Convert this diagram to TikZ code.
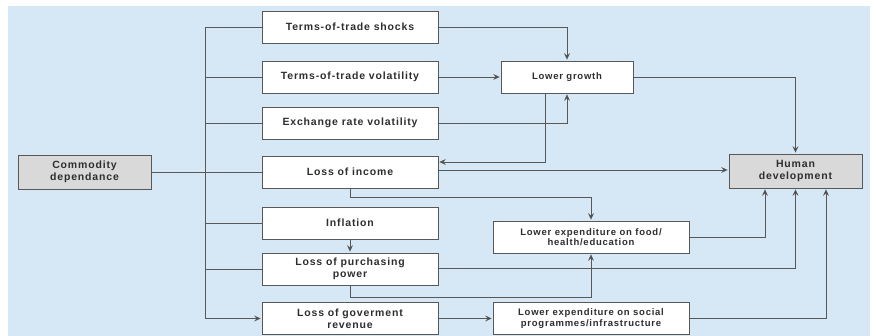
\documentclass[tikz,border=0pt]{standalone}
\usepackage{fontspec}
\usepackage{xcolor}
\usetikzlibrary{arrows.meta}
\newfontfamily\labelfont{Liberation Sans}[LetterSpace=8]
\definecolor{panelblue}{HTML}{D6E7F6}
\definecolor{boxgrey}{HTML}{D9D9D9}
\definecolor{linegrey}{HTML}{585858}
\definecolor{textgrey}{HTML}{2E2E2E}
\tikzset{
	whitebox/.style={draw=linegrey, fill=white, line width=0.8pt, inner sep=0pt, align=center, text=textgrey, minimum width=176pt, minimum height=32pt, font=\labelfont\bfseries\fontsize{10.5}{11.5}\selectfont},
	greybox/.style={whitebox, fill=boxgrey, minimum width=133pt, minimum height=34pt},
	lowerbox/.style={whitebox, minimum width=196pt, font=\labelfont\bfseries\fontsize{9.5}{10.5}\selectfont},
	link/.style={draw=linegrey, line width=0.7pt},
	arrowlink/.style={link, -{Stealth[length=6.5pt, width=6pt, inset=2.5pt, fill=black!85]}, shorten >=1pt}
}
\begin{document}
\begin{tikzpicture}[x=1pt, y=-1pt]
				\useasboundingbox (0,0) rectangle (876,336);
				\fill [panelblue] (8,6) rectangle (870,336);
				\node [greybox] (commodity) at (84.5,172){Commodity\\dependance};
				\node [whitebox] (shocks) at (350,27){Terms-of-trade shocks};
				\node [whitebox] (tradevol) at (350,77){Terms-of-trade volatility};
				\node [whitebox] (ratevol) at (350,123){Exchange rate volatility};
				\node [whitebox] (income) at (350,172){Loss of income};
				\node [whitebox] (inflation) at (350,223){Inflation};
				\node [whitebox] (purchasing) at (350,269){Loss of purchasing\\power};
				\node [whitebox] (revenue) at (350,318.5){Loss of goverment\\revenue};
				\node [lowerbox, minimum width=132pt] (growth) at (567,77){Lower growth};
				\node [lowerbox] (food) at (591,237){Lower expenditure on food/\\health/education};
				\node [lowerbox] (social) at (591,318.5){Lower expenditure on social\\programmes/infrastructure};
				\node [greybox] (human) at (795.5,171){Human\\development};
				\coordinate (trunk) at (205,27);
				\draw [link] (shocks.west) -- (trunk);
				\draw [arrowlink] (trunk) |- (revenue.west);
				\draw [link] (trunk |- tradevol) -- (tradevol.west);
				\draw [link] (trunk |- ratevol) -- (ratevol.west);
				\draw [link] (commodity.east) -- (income.west);
				\draw [link] (trunk |- inflation) -- (inflation.west);
				\draw [link] (trunk |- purchasing) -- (purchasing.west);
				\draw [arrowlink] (shocks.east) -| (growth.north);
				\draw [arrowlink] (tradevol.east) -- (growth.west);
				\draw [arrowlink] (ratevol.east) -| (growth.south);
				\draw [arrowlink] ([xshift=-22pt]growth.south) |- ([yshift=10pt]income.east);
				\draw [arrowlink] (growth.east) -| (human.north);
				\draw [arrowlink] ([yshift=2pt]income.east) -- ([yshift=2pt]income.east -| human.west);
				\draw [arrowlink] (income.south) -- ++(0,9) -| (food.north);
				\draw [arrowlink] (inflation.south) -- (purchasing.north);
				\draw [arrowlink] ([yshift=1pt]purchasing.east) -| (human.south);
				\draw [arrowlink] (purchasing.south) -- ++(0,12) -| (food.south);
				\draw [arrowlink] (food.east) -| ([xshift=-30.5pt]human.south);
				\draw [arrowlink] (revenue.east) -- (social.west);
				\draw [arrowlink] (social.east) -| ([xshift=30.5pt]human.south);
			\end{tikzpicture}
\end{document}
